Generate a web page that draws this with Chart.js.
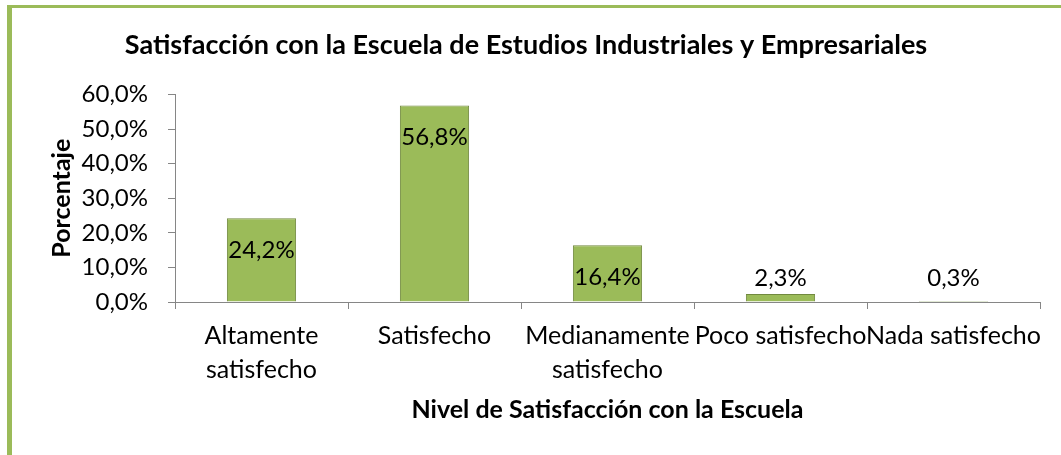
<!DOCTYPE html>
<html lang="es">
<head>
    <meta charset="UTF-8">
    <title>Satisfacción con la Escuela</title>
    <script src="https://cdn.jsdelivr.net/npm/chart.js"></script>
    <style>
        body { margin: 0; background: #fff; }
        .frame {
            position: absolute;
            left: 7px;
            top: 5px;
            width: 1054px;
            height: 450px;
            border-left: 5px solid #9BBB59;
            border-top: 3px solid #9BBB59;
        }
    </style>
</head>
<body>
    <div class="frame">
        <canvas id="satisChart" width="1049" height="447"></canvas>
    </div>

    <script>
        // datos del gráfico
        const categorias = [['Altamente', 'satisfecho'], 'Satisfecho', ['Medianamente', 'satisfecho'], 'Poco satisfecho', 'Nada satisfecho'];
        const porcentajes = [24.2, 56.8, 16.4, 2.3, 0.3];
        const ticksY = [0, 10, 20, 30, 40, 50, 60];

        const fmt = v => v.toFixed(1).replace('.', ',') + '%';

        // etiquetas de datos estilo Excel (dentro del extremo, o encima si no caben)
        const etiquetas = {
            id: 'etiquetas',
            afterDatasetsDraw(chart) {
                const ctx = chart.ctx;
                const meta = chart.getDatasetMeta(0);
                ctx.save();
                ctx.font = '24px Lato';
                ctx.fillStyle = '#000';
                ctx.textAlign = 'center';
                ctx.textBaseline = 'middle';
                meta.data.forEach((bar, i) => {
                    const y = Math.min(bar.y + 32, bar.base - 23);
                    ctx.fillText(fmt(porcentajes[i]), bar.x, y);
                });
                ctx.restore();
            }
        };

        const ctx = document.getElementById('satisChart').getContext('2d');
        new Chart(ctx, {
            type: 'bar',
            data: {
                labels: categorias,
                datasets: [{
                    data: porcentajes,
                    backgroundColor: '#9BBB59',
                    borderColor: '#71893F',
                    borderWidth: 1,
                    barPercentage: 0.4,
                    categoryPercentage: 1
                }]
            },
            options: {
                responsive: false,
                animation: false,
                layout: { padding: { top: 0, left: 0, right: 21, bottom: 0 } },
                plugins: {
                    legend: { display: false },
                    tooltip: { enabled: false },
                    title: {
                        display: true,
                        text: 'Satisfacción con la Escuela de Estudios Industriales y Empresariales',
                        color: '#000',
                        font: { family: 'Lato', size: 27, weight: 'bold', lineHeight: 1.2 },
                        padding: { top: 21, bottom: 33 }
                    }
                },
                scales: {
                    x: {
                        afterFit: s => { s.height = 153; },
                        grid: { drawOnChartArea: false, tickLength: 7, color: '#868686' },
                        border: { color: '#868686' },
                        ticks: {
                            color: '#000',
                            padding: 10,
                            maxRotation: 0,
                            autoSkip: false,
                            font: { family: 'Lato', size: 25, lineHeight: 1.35 }
                        },
                        title: {
                            display: true,
                            text: 'Nivel de Satisfacción con la Escuela',
                            color: '#000',
                            font: { family: 'Lato', size: 25, weight: 'bold', lineHeight: 1.2 },
                            padding: { top: 0, bottom: 30 }
                        }
                    },
                    y: {
                        min: 0,
                        max: 60,
                        afterFit: s => { s.width = 163; },
                        afterBuildTicks: s => { s.ticks = ticksY.map(v => ({ value: v })); },
                        grid: { drawOnChartArea: false, tickLength: 7, color: '#868686' },
                        border: { color: '#868686' },
                        ticks: {
                            color: '#000',
                            padding: 20,
                            font: { family: 'Lato', size: 24 },
                            callback: v => fmt(v)
                        },
                        title: {
                            display: true,
                            text: 'Porcentaje',
                            color: '#000',
                            font: { family: 'Lato', size: 25, weight: 'bold', lineHeight: 1.2 },
                            padding: { top: 35, bottom: 0 }
                        }
                    }
                }
            },
            plugins: [etiquetas]
        });
    </script>
</body>
</html>
